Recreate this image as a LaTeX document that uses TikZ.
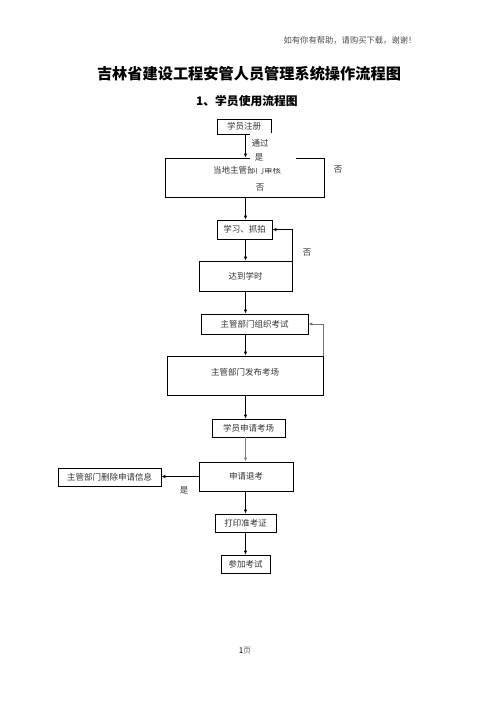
\documentclass[tikz,border=0pt]{standalone}
\usepackage{fontspec}
\setmainfont{Noto Sans CJK SC}
\usetikzlibrary{arrows.meta}
\begin{document}
\begin{tikzpicture}[x=1pt,y=-1pt,
  box/.style={draw=black, line width=0.6pt, inner sep=0pt, anchor=center, font=\fontsize{8.5}{10}\selectfont, text=black!80},
  lbl/.style={inner sep=0pt, font=\fontsize{8.5}{10}\selectfont, text=black!80},
  arr/.style={line width=0.6pt, -{Latex[length=4pt,width=3.2pt]}}]
\useasboundingbox (0,0) rectangle (496,702);
% header and titles
\node[inner sep=0pt, font=\fontsize{8.3}{10}\selectfont, text=black!70] (hdr) at (350,40) {如有你有帮助，请购买下载，谢谢！};
\node[inner sep=0pt, font=\fontsize{15.2}{18}\selectfont\bfseries] (title) at (249,74) {吉林省建设工程安管人员管理系统操作流程图};
\node[inner sep=0pt, font=\fontsize{11.8}{14}\selectfont\bfseries] (sub) at (247,101) {1、学员使用流程图};
\coordinate (mx) at (245.5,0);
% boxes
\node[box, minimum width=54, minimum height=15] (b1) at (244,126.5) {学员注册\hspace{6pt}};
\node[box, minimum width=159, minimum height=39] (b2) at (244.5,177.5) {};
\node[lbl] (b2t) at (247,170) {当地主管部门审核};
\node[lbl] (b2n) at (260,188) {否};
\node[fill=white, inner sep=0pt, minimum width=46, minimum height=35] (ov) at (273,150.5) {};
\node[lbl] (tg) at (260,143) {通过};
\node[lbl] (yes1) at (259,157) {是};
\node[lbl] (no1) at (338,170) {否};
\node[box, minimum width=55, minimum height=19] (b3) at (244.5,229.5) {学习、抓拍};
\node[box, minimum width=93, minimum height=30] (b4) at (245.5,276) {达到学时};
\node[lbl] (no2) at (307,253) {否};
\node[box, minimum width=107, minimum height=20] (b5) at (254.5,324) {主管部门组织考试};
\node[box, minimum width=156, minimum height=39] (b6) at (245,375.5) {};
\node[lbl] (b6t) at (245,372) {主管部门发布考场};
\node[box, minimum width=73, minimum height=18] (b7) at (248.5,428) {学员申请考场};
\node[box, minimum width=94, minimum height=29] (b8) at (246,476.5) {申请退考};
\node[box, minimum width=103, minimum height=18] (b9) at (109.5,477) {主管部门删除申请信息};
\node[lbl] (yes2) at (184,490) {是};
\node[box, minimum width=61, minimum height=18] (b10) at (245.5,523) {打印准考证};
\node[box, minimum width=49, minimum height=18] (b11) at (245.5,564) {参加考试};
\node[inner sep=0pt, font=\fontsize{8}{10}\selectfont] (pg) at (245,651) {1\textcolor{black!60}{页}};
% connectors
\draw[arr] (b1.south -| mx) -- (b2.north -| mx);
\draw[arr] (b2.south -| mx) -- (b3.north -| mx);
\draw[arr] (b3.south -| mx) -- (b4.north -| mx);
\draw[arr] (b4.south -| mx) -- (b5.north -| mx);
\draw[arr] (b5.south -| mx) -- (b6.north -| mx);
\draw[arr] (b6.south -| mx) -- (b7.north -| mx);
\draw[arr, draw=black!50, line width=1.1pt] (b7.south -| mx) -- (b8.north -| mx);
\draw[arr] (b8.south -| mx) -- (b10.north -| mx);
\draw[arr] (b10.south -| mx) -- (b11.north -| mx);
\draw[arr] (b4.north east) |- (b3.east);
\draw[arr, draw=black!55, line width=0.9pt] (b6.north east) |- (b5.east);
\draw[arr] (b8.west) -- (b8.west -| b9.east);
\end{tikzpicture}
\end{document}
